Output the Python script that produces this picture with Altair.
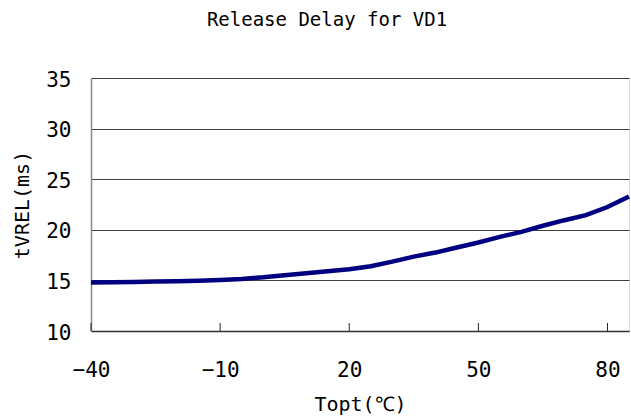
import altair as alt
import pandas as pd

# Release delay vs. operating temperature
temps = [-40, -35, -30, -25, -20, -15, -10, -5, 0, 5, 10, 15, 20, 25, 30,
         35, 40, 45, 50, 55, 60, 65, 70, 75, 80, 85]
delay = [14.80, 14.82, 14.85, 14.88, 14.92, 14.97, 15.05, 15.15, 15.30, 15.50,
         15.70, 15.90, 16.10, 16.40, 16.85, 17.35, 17.75, 18.25, 18.75, 19.30,
         19.80, 20.40, 20.95, 21.45, 22.25, 23.30]
x_ticks = [-40, -10, 20, 50, 80]
y_ticks = [10, 15, 20, 25, 30, 35]

FONT = "DejaVu Sans Mono"
W, H = 538, 253

df = pd.DataFrame({"t": temps, "d": delay})
ticks_df = pd.DataFrame({"t": x_ticks})

x_scale = alt.Scale(domain=[-40, 85], nice=False, zero=False)
y_scale = alt.Scale(domain=[10, 35], nice=False, zero=False)

x_axis = alt.Axis(
    values=x_ticks, title="Topt(\u2103)", labelExpr="replace(datum.label, '-', '\u2212')",
    grid=False, ticks=False, domainColor="#333333", domainWidth=1.5,
    labelFlush=False, labelOverlap=False,
    labelPadding=28, labelFontSize=21, labelFont=FONT, labelColor="#000000",
    titleFontSize=20, titleFont=FONT, titleFontWeight="normal", titleColor="#000000",
    titlePadding=14,
)
y_axis = alt.Axis(
    values=y_ticks, title="tVREL(ms)", grid=True, gridColor="#404040", gridWidth=1,
    ticks=False, domainColor="#888888", domainWidth=1.5,
    labelFlush=False, labelOverlap=False, labelOffset=2,
    labelPadding=20, labelFontSize=21, labelFont=FONT, labelColor="#000000",
    titleFontSize=20, titleFont=FONT, titleFontWeight="normal", titleColor="#000000",
    titlePadding=13,
)

line = alt.Chart(df).mark_line(color="#000080", strokeWidth=4.5).encode(
    x=alt.X("t:Q", scale=x_scale, axis=x_axis),
    y=alt.Y("d:Q", scale=y_scale, axis=y_axis),
)

# inward-pointing x tick marks
tick_marks = alt.Chart(ticks_df).mark_rule(color="#222222", strokeWidth=1).encode(
    x=alt.X("t:Q", scale=x_scale),
    y=alt.value(H),
    y2=alt.value(H - 8),
)

chart = (
    alt.layer(line, tick_marks)
    .properties(
        width=W,
        height=H,
        autosize=alt.AutoSizeParams(type="none"),
        padding={"left": 91, "top": 78, "right": 2, "bottom": 85},
        title=alt.Title(
            "Release Delay for VD1", font=FONT, fontSize=19, fontWeight="normal",
            color="#000000", anchor="middle", dx=-33, offset=39,
        ),
    )
    .configure_view(stroke="#888888", strokeWidth=1.5)
    .configure(background="#ffffff")
)

chart.save("out.html", embed_options={"renderer": "svg", "actions": False})
